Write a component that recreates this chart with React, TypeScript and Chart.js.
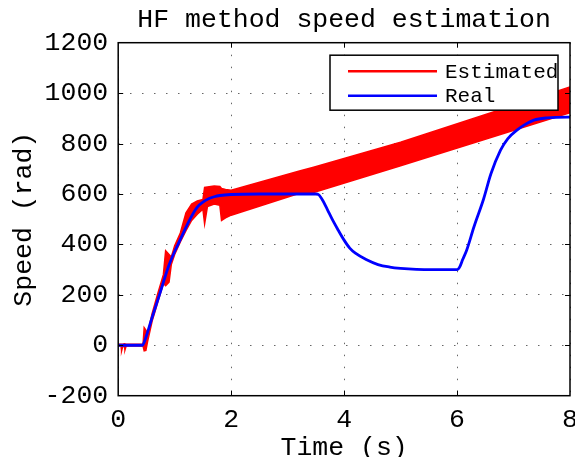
import { useEffect, useRef } from "react";
import { Chart, registerables } from "chart.js";

Chart.register(...registerables);

const TITLE = "HF method speed estimation";
const X_LABEL = "Time (s)";
const Y_LABEL = "Speed (rad)";
const LEGEND_LABELS = ["Estimated", "Real"];
const X_MIN = 0;
const X_MAX = 8;
const X_STEP = 2;
const Y_MIN = -200;
const Y_MAX = 1200;
const Y_STEP = 200;

// Estimated speed: envelope of the fast-oscillating estimate (lower / upper)
const estTime = [0, 0.05, 0.06, 0.08, 0.11, 0.12, 0.14, 0.3, 0.44, 0.46, 0.49, 0.52, 0.6, 0.7, 0.8, 0.84, 0.9, 0.94, 1.0, 1.1, 1.2, 1.3, 1.4, 1.5, 1.53, 1.58, 1.7, 1.8, 1.83, 1.9, 2.0, 3.21, 3.46, 5.0, 8.0];
const estLower = [-3, -3, -22, -5, -5, -18, -3, -3, -3, -22, -20, 15, 95, 170, 245, 236, 250, 320, 360, 410, 455, 495, 520, 540, 482, 550, 560, 555, 495, 505, 516, 603, 606, 712, 922];
const estUpper = [4, 4, 4, 4, 6, 6, 4, 4, 4, 70, 60, 45, 125, 205, 280, 375, 360, 350, 395, 445, 525, 560, 572, 578, 626, 628, 632, 630, 622, 618, 615, 691, 706, 805, 1024];

// Real speed
const realTime = [0, 0.43, 0.46, 0.5, 0.6, 0.73, 0.8, 0.9, 1.0, 1.06, 1.1, 1.2, 1.3, 1.4, 1.5, 1.6, 1.7, 1.8, 2.0, 2.5, 3.5, 3.55, 3.62, 3.7, 3.8, 3.9, 4.0, 4.1, 4.2, 4.39, 4.6, 4.81, 5.0, 5.28, 5.6, 6.0, 6.05, 6.1, 6.17, 6.3, 6.47, 6.6, 6.77, 6.9, 7.06, 7.2, 7.36, 7.6, 7.96, 8.0];
const realSpeed = [0, 0, 12, 38, 110, 200, 250, 318, 372, 400, 420, 468, 512, 548, 568, 581, 589, 594, 598, 600, 600, 597, 575, 540, 495, 455, 417, 385, 365, 340, 320, 310, 305, 301, 300, 300, 312, 340, 377, 470, 580, 680, 774, 820, 853, 875, 893, 902, 905, 905];

const FONT = "'Liberation Mono', 'Courier New', monospace";

const toPoints = (xs: number[], ys: number[]) => xs.map((x, i) => ({ x, y: ys[i] }));

const decorPlugin = {
  id: "decor",
  afterDatasetsDraw(chart: any) {
    const { ctx, chartArea: a, scales } = chart;
    const xs = scales.x;
    const ys = scales.y;
    ctx.save();
    // inward tick marks on all four sides
    ctx.strokeStyle = "#000";
    ctx.lineWidth = 1;
    const tl = 5;
    ctx.beginPath();
    for (const t of xs.ticks) {
      if (t.value <= X_MIN || t.value >= X_MAX) continue;
      const px = Math.round(xs.getPixelForValue(t.value)) + 0.5;
      ctx.moveTo(px, a.bottom);
      ctx.lineTo(px, a.bottom - tl);
      ctx.moveTo(px, a.top);
      ctx.lineTo(px, a.top + tl);
    }
    for (const t of ys.ticks) {
      if (t.value <= Y_MIN || t.value >= Y_MAX) continue;
      const py = Math.round(ys.getPixelForValue(t.value)) + 0.5;
      ctx.moveTo(a.left, py);
      ctx.lineTo(a.left + tl, py);
      ctx.moveTo(a.right, py);
      ctx.lineTo(a.right - tl, py);
    }
    ctx.stroke();
    // axes box
    ctx.lineWidth = 1.5;
    ctx.strokeRect(a.left, a.top, a.right - a.left, a.bottom - a.top);

    // legend box
    const bx = a.right - 240;
    const by = a.top + 12.5;
    const bw = 228;
    const bh = 55;
    ctx.fillStyle = "#fff";
    ctx.fillRect(bx, by, bw, bh);
    ctx.lineWidth = 1.5;
    ctx.strokeStyle = "#000";
    ctx.strokeRect(bx, by, bw, bh);
    const colors = ["#ff0000", "#0000ff"];
    ctx.font = `21px ${FONT}`;
    ctx.textBaseline = "middle";
    ctx.textAlign = "left";
    LEGEND_LABELS.forEach((lab, i) => {
      const ly = by + 16 + i * 24.5;
      ctx.strokeStyle = colors[i];
      ctx.lineWidth = 2.5;
      ctx.beginPath();
      ctx.moveTo(bx + 18, ly);
      ctx.lineTo(bx + 107, ly);
      ctx.stroke();
      ctx.fillStyle = "#000";
      ctx.fillText(lab, bx + 115, ly + 1);
    });
    ctx.restore();
  },
  afterDraw(chart: any) {
    const { ctx, chartArea: a } = chart;
    ctx.save();
    ctx.fillStyle = "#000";
    ctx.textAlign = "center";
    ctx.textBaseline = "alphabetic";
    ctx.font = `26.5px ${FONT}`;
    const cx = (a.left + a.right) / 2;
    ctx.fillText(TITLE, cx, 27);
    ctx.fillText(X_LABEL, cx, 455);
    ctx.translate(31, (a.top + a.bottom) / 2);
    ctx.rotate(-Math.PI / 2);
    ctx.fillText(Y_LABEL, 0, 0);
    ctx.restore();
  },
};

export default function App() {
  const ref = useRef<HTMLCanvasElement | null>(null);
  useEffect(() => {
    if (!ref.current) return;
    const chart = new Chart(ref.current, {
      type: "line",
      data: {
        datasets: [
          {
            label: "Real",
            data: toPoints(realTime, realSpeed),
            borderColor: "#0000ff",
            borderWidth: 2.8,
            pointRadius: 0,
            fill: false,
            cubicInterpolationMode: "monotone",
            order: 0,
          },
          {
            label: "Estimated (upper)",
            data: toPoints(estTime, estUpper),
            borderColor: "#ff0000",
            backgroundColor: "#ff0000",
            borderWidth: 1.5,
            pointRadius: 0,
            fill: "+1",
            order: 1,
          },
          {
            label: "Estimated (lower)",
            data: toPoints(estTime, estLower),
            borderColor: "#ff0000",
            borderWidth: 1.5,
            pointRadius: 0,
            fill: false,
            order: 2,
          },
        ],
      },
      options: {
        animation: false,
        responsive: true,
        maintainAspectRatio: false,
        layout: { padding: { top: 42.7, right: 5, left: 0, bottom: 0 } },
        plugins: {
          legend: { display: false },
          tooltip: { enabled: false },
          title: { display: false },
        },
        scales: {
          x: {
            type: "linear",
            min: X_MIN,
            max: X_MAX,
            grid: { color: "#666", lineWidth: 1, drawTicks: false },
            border: { display: false, dash: [1.5, 10.5] },
            ticks: {
              stepSize: X_STEP,
              autoSkip: false,
              maxRotation: 0,
              padding: 8,
              color: "#000",
              font: { family: FONT, size: 26.5 },
              callback: (v: any) => String(v),
            },
            afterFit: (s: any) => {
              s.height = 61.3;
              s.paddingLeft = 0;
              s.paddingRight = 0;
            },
          },
          y: {
            type: "linear",
            min: Y_MIN,
            max: Y_MAX,
            grid: { color: "#666", lineWidth: 1, drawTicks: false },
            border: { display: false, dash: [1.5, 10.5] },
            ticks: {
              stepSize: Y_STEP,
              autoSkip: false,
              padding: 10,
              color: "#000",
              font: { family: FONT, size: 26.5 },
              callback: (v: any) => String(v),
            },
            afterFit: (s: any) => {
              s.width = 118.2;
              s.paddingTop = 0;
              s.paddingBottom = 0;
            },
          },
        },
      },
      plugins: [decorPlugin],
    });
    return () => chart.destroy();
  }, []);
  return (
    <div style={{ position: "absolute", left: 0, top: 0, width: 575, height: 457 }}>
      <canvas ref={ref} />
    </div>
  );
}
